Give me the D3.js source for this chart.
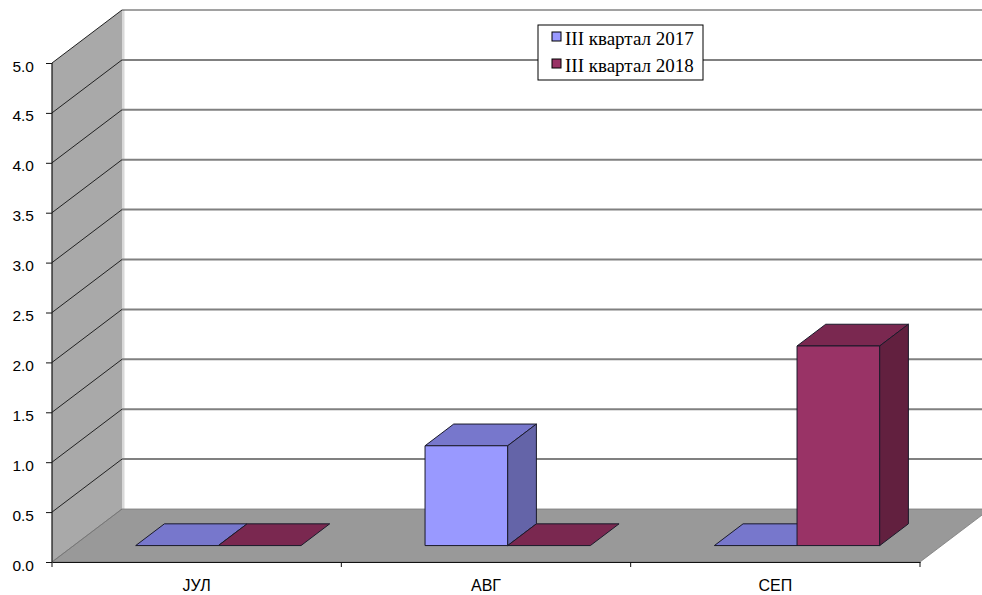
<!DOCTYPE html>
<html>
<head>
<meta charset="utf-8">
<script src="https://cdn.jsdelivr.net/npm/d3@7"></script>
<style>
  html, body { margin: 0; padding: 0; background: #fff; }
  svg { display: block; }
</style>
</head>
<body>
<svg id="chart" width="982" height="595"></svg>
<script>
// Monthly values, third quarter 2017 vs 2018
const categories = ["ЈУЛ", "АВГ", "СЕП"];
const seriesNames = ["III квартал 2017", "III квартал 2018"];
const values2017 = [0, 1.0, 0];
const values2018 = [0, 0, 2.0];
const yTicks = [0, 0.5, 1, 1.5, 2, 2.5, 3, 3.5, 4, 4.5, 5];

// face colours per series: front, top, side
const palette = [
  { front: "#9999ff", top: "#7777cc", side: "#6464a8" },
  { front: "#993366", top: "#7a2850", side: "#62203f" }
];

const svg = d3.select("#chart");

// front plane of the 3D box
const x0 = 52, x1 = 920;
const y = d3.scaleLinear().domain([0, 5]).range([562, 63]);
// depth offset of the back wall
const DX = 70, DY = 53;
const P = (x, v, z) => [x + z * DX, y(v) - z * DY];
const poly = pts => "M" + pts.map(p => p.join(",")).join("L") + "Z";

const xCat = d3.scaleBand().domain(categories).range([x0, x1]).padding(0);
// gap width 150% between groups
const groupW = xCat.bandwidth() * 2 / 3.5;
const xSer = d3.scaleBand().domain(d3.range(seriesNames.length))
  .range([(xCat.bandwidth() - groupW) / 2, (xCat.bandwidth() + groupW) / 2]);

const zFront = 0.31, zBack = 0.72;

// back wall
svg.append("path")
  .attr("d", poly([P(x0, 0, 1), P(x0, 5, 1), [982, P(x0, 5, 1)[1]], [982, P(x0, 0, 1)[1]]]))
  .attr("fill", "#ffffff");
svg.append("line")
  .attr("x1", P(x0, 0, 1)[0] + 1).attr("x2", P(x0, 0, 1)[0] + 1)
  .attr("y1", P(x0, 5, 1)[1]).attr("y2", P(x0, 0, 1)[1])
  .attr("stroke", "#d8d8d8").attr("stroke-width", 3);

// side wall
svg.append("path")
  .attr("d", poly([P(x0, 0, 0), P(x0, 5, 0), P(x0, 5, 1), P(x0, 0, 1)]))
  .attr("fill", "#a9a9a9");

// floor
svg.append("path")
  .attr("d", poly([P(x0, 0, 0), P(x1, 0, 0), P(x1, 0, 1), P(x0, 0, 1)]))
  .attr("fill", "#999999")
  .attr("stroke", "#7a7a7a").attr("stroke-width", 0.8);

// gridlines: back wall and side wall
yTicks.filter(t => t > 0).forEach(t => {
  const b = P(x0, t, 1);
  svg.append("line")
    .attr("x1", b[0]).attr("y1", b[1]).attr("x2", 982).attr("y2", b[1])
    .attr("stroke", t === 5 ? "#444" : "#808080")
    .attr("stroke-width", t === 5 ? 1 : 2);
  const f = P(x0, t, 0);
  svg.append("line")
    .attr("x1", f[0]).attr("y1", f[1]).attr("x2", b[0]).attr("y2", b[1])
    .attr("stroke", "#222").attr("stroke-width", 1);
});
{
  const f = P(x0, 0, 0), b = P(x0, 0, 1);
  svg.append("line")
    .attr("x1", f[0]).attr("y1", f[1]).attr("x2", b[0]).attr("y2", b[1])
    .attr("stroke", "#777").attr("stroke-width", 1);
}

// bars: a flat top for zero values, a full box otherwise
const data = categories.map((c, i) => [values2017[i], values2018[i]]);
categories.forEach((c, ci) => {
  data[ci].forEach((v, si) => {
    const col = palette[si];
    const xl = xCat(c) + xSer(si);
    const xr = xl + xSer.bandwidth();
    const g = svg.append("g")
      .attr("stroke", "#1a1a2a").attr("stroke-width", 1).attr("stroke-linejoin", "round");
    g.append("path")
      .attr("d", poly([P(xl, v, zFront), P(xr, v, zFront), P(xr, v, zBack), P(xl, v, zBack)]))
      .attr("fill", col.top);
    if (v > 0) {
      g.append("path")
        .attr("d", poly([P(xl, 0, zFront), P(xr, 0, zFront), P(xr, v, zFront), P(xl, v, zFront)]))
        .attr("fill", col.front);
      g.append("path")
        .attr("d", poly([P(xr, 0, zFront), P(xr, 0, zBack), P(xr, v, zBack), P(xr, v, zFront)]))
        .attr("fill", col.side);
    }
  });
});

// value axis
svg.append("line")
  .attr("x1", x0).attr("x2", x0).attr("y1", y(5)).attr("y2", y(0))
  .attr("stroke", "#111").attr("stroke-width", 1.2);
const yAxis = svg.append("g").attr("transform", `translate(${x0},0)`)
  .call(d3.axisLeft(y).tickValues(yTicks).tickFormat(d3.format(".1f")).tickSize(6).tickPadding(12));
yAxis.select(".domain").remove();
yAxis.selectAll("line").attr("stroke", "#111");
yAxis.selectAll("text")
  .attr("font-family", "Liberation Sans, Arial, sans-serif")
  .attr("font-size", 15.5).attr("fill", "#000")
  .attr("dy", 8);

// category axis
const xAxis = svg.append("g").attr("transform", `translate(0,${y(0)})`)
  .call(d3.axisBottom(xCat).tickSize(0).tickPadding(0));
xAxis.select(".domain").attr("stroke", "#111").attr("stroke-width", 1.2);
xAxis.selectAll("text")
  .attr("font-family", "Liberation Sans, Arial, sans-serif")
  .attr("font-size", 16).attr("fill", "#000")
  .attr("y", 29).attr("dy", 0);
d3.range(categories.length + 1).forEach(i => {
  const xx = x0 + i * xCat.bandwidth();
  xAxis.append("line").attr("x1", xx).attr("x2", xx).attr("y1", 0).attr("y2", 5)
    .attr("stroke", "#111");
});

// legend
const leg = svg.append("g").attr("transform", "translate(538,25)");
leg.append("rect").attr("width", 165).attr("height", 55)
  .attr("fill", "#fff").attr("stroke", "#000").attr("stroke-width", 1);
seriesNames.forEach((name, i) => {
  const row = leg.append("g").attr("transform", `translate(14,${7 + i * 27})`);
  row.append("rect").attr("width", 9).attr("height", 9)
    .attr("fill", palette[i].front).attr("stroke", "#000").attr("stroke-width", 1);
  row.append("text").attr("x", 13).attr("y", 13)
    .attr("font-family", "Liberation Serif, Times New Roman, serif")
    .attr("font-size", 19).attr("fill", "#000")
    .text(name);
});
</script>
</body>
</html>
